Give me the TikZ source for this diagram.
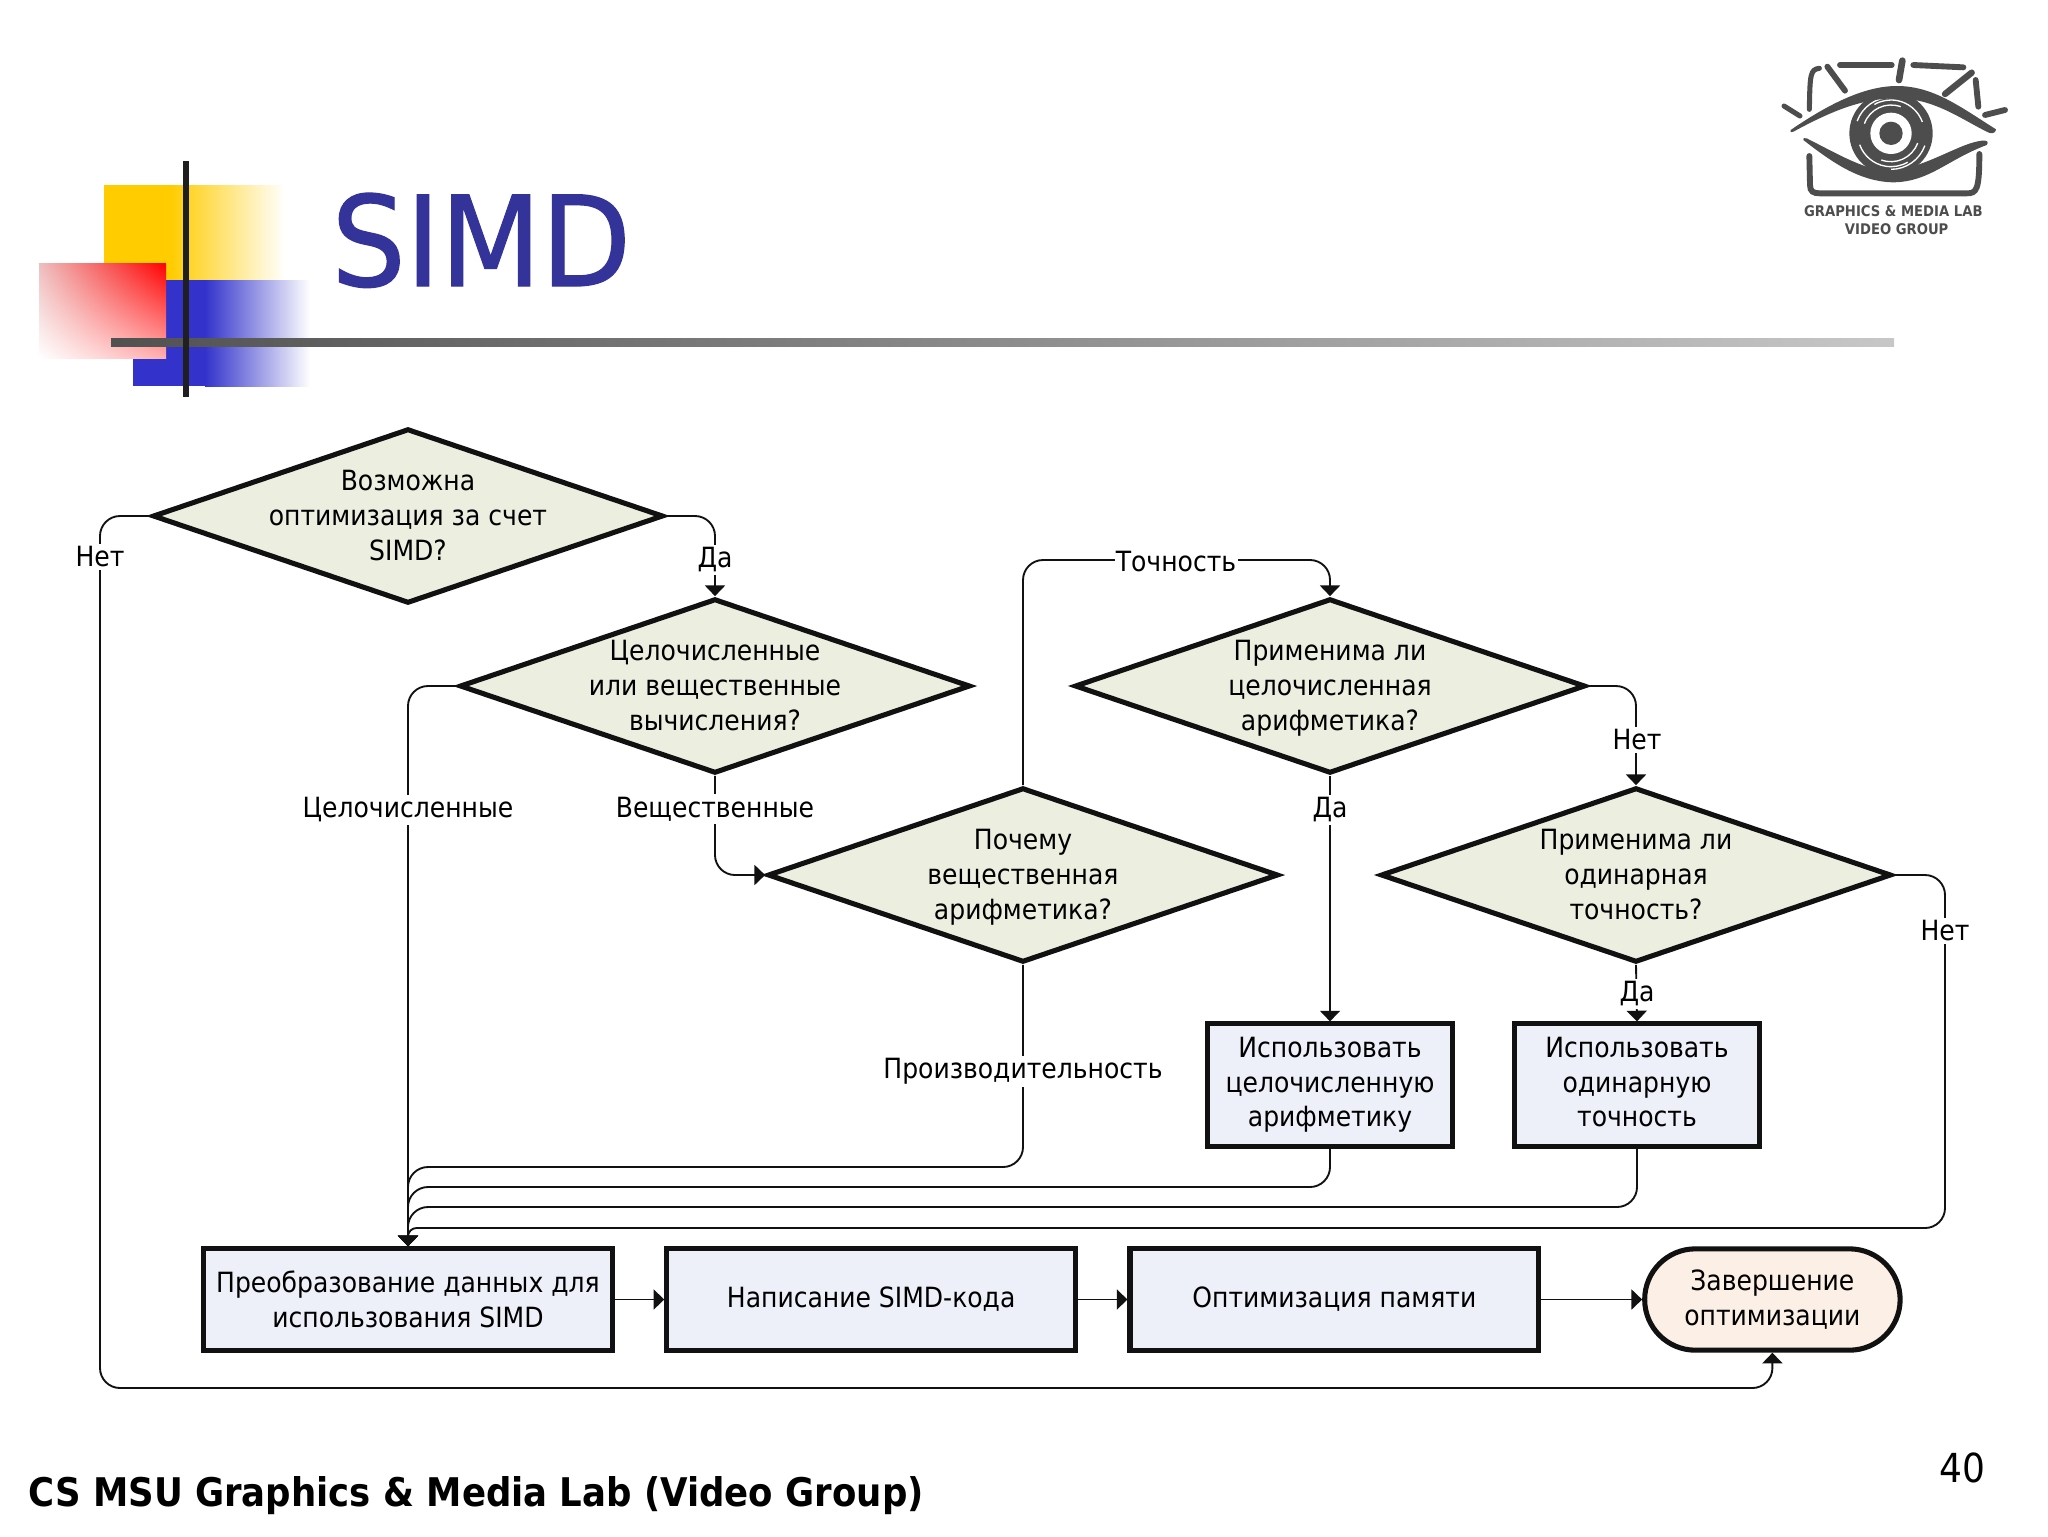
\documentclass[tikz,border=0pt]{standalone}
\usepackage{fontspec}
\setmainfont{DejaVu Sans Condensed}
\newfontfamily\titlefont{DejaVu Sans Condensed}[FakeBold=1, FakeStretch=1.037]
\usepackage{xcolor}
\usepackage{tikz}
\usetikzlibrary{positioning,shapes.geometric,arrows.meta,shadings}
\definecolor{decisionfill}{HTML}{ECEFE0}
\definecolor{actionfill}{HTML}{EDF0F8}
\definecolor{finishfill}{HTML}{FCEFE5}
\definecolor{linedark}{HTML}{111111}
\definecolor{titleblue}{HTML}{333399}
\definecolor{logogray}{HTML}{4D4D4D}
\definecolor{decoyellow}{HTML}{FFCC00}
\definecolor{decoblue}{HTML}{3333CC}
\definecolor{decopinka}{HTML}{EEBEBE}
\definecolor{decopinkb}{HTML}{FFAFAF}
\newcommand{\dtext}[1]{\makebox[0pt]{\smash{\raisebox{-3.5pt}{\begin{tabular}[c]{@{}c@{}}#1\end{tabular}}}}}
\newcommand{\nodefont}{\fontsize{10.45}{13}\selectfont}
\tikzset{
  decision/.style={diamond, aspect=3, minimum width=191.5pt, minimum height=65.5pt, inner sep=0pt, draw=linedark, line width=1.9pt, fill=decisionfill, font=\nodefont},
  action/.style={rectangle, minimum width=153.3pt, minimum height=38pt, inner sep=0pt, align=center, draw=linedark, line width=1.9pt, fill=actionfill, font=\nodefont},
  usebox/.style={action, minimum width=91.8pt, minimum height=45.8pt},
  finish/.style={action, minimum width=95.8pt, rounded corners=19pt, fill=finishfill},
  arrow/.style={draw=linedark, line width=.7pt, rounded corners=7.5pt, -{Triangle[length=4pt,width=7.5pt]}},
  annotation/.style={fill=white, inner xsep=.5pt, inner ysep=1pt, font=\nodefont},
  logoline/.style={draw=logogray, line cap=round},
  logotext/.style={inner sep=0pt, text=logogray, font=\bfseries\fontsize{5.5}{7}\selectfont}
}
\begin{document}
\begin{tikzpicture}[x=.375pt, y=-.375pt]
  \useasboundingbox (0,0) rectangle (2048,1536);

  % Corner decoration
  \fill [decoyellow] (104,185) rectangle (183,280);
  \shade [left color=decoyellow, right color=white] (170,185) rectangle (285,280);
  \fill [white] (104,280) rectangle (133,386);
  \fill [decoblue] (133,280) rectangle (223,386);
  \shade [left color=decoblue, right color=white] (205,280) rectangle (310,386);
  \shade [upper right=red, lower left=white, upper left=decopinka, lower right=decopinkb] (39,263) rectangle (166,358);
  \begin{scope}
    \clip (111,338) rectangle (1894,346);
    \shade [left color=black!88, middle color=black!27, right color=white] (-647,338) rectangle (2741,346);
  \end{scope}
  \fill [black!88] (183,161) rectangle (189,397);

  % Title and footer
  \node (title) [anchor=base west, inner sep=0pt, text=titleblue, font=\titlefont\fontsize{47}{50}\selectfont] at (331,286) {SIMD};
  \node (footer) [anchor=base west, inner sep=0pt, font=\bfseries\fontsize{14.8}{16}\selectfont] at (28,1506) {CS MSU Graphics \& Media Lab (Video Group)};
  \node (pagenum) [anchor=base, inner sep=0pt, font=\fontsize{15}{18}\selectfont] at (1962,1482) {40};

  % Logo
  \begin{scope}[shift={(1760,30)}, x=.125pt, y=-.125pt]
    \draw [logoline, line width=1.9pt] (178,115) .. controls (150,118) and (150,135) .. (148,238);
    \draw [logoline, line width=2.2pt] (202,110) -- (255,182);
    \draw [logoline, line width=2.2pt] (240,105) -- (395,105);
    \draw [logoline, line width=2.5pt] (427,92) -- (417,150);
    \draw [logoline, line width=2.2pt] (460,105) -- (610,112);
    \draw [logoline, line width=2.4pt] (635,128) -- (555,192);
    \draw [logoline, line width=2.2pt] (647,150) -- (655,230);
    \draw [logoline, line width=2.2pt] (675,255) -- (735,240);
    \draw [logoline, line width=1.9pt] (72,228) -- (120,258);
    \fill [logogray] (393,310) circle (125);
    \draw [white, line width=.5pt] (393,310) ++(160:100) arc (160:60:100);
    \draw [white, line width=.5pt] (393,310) ++(340:100) arc (340:240:100);
    \draw [white, line width=.5pt] (393,310) ++(200:108) arc (200:270:108);
    \draw [white, line width=.5pt] (393,310) ++(20:108) arc (20:90:108);
    \draw [white, line width=.5pt] (393,310) ++(110:85) arc (110:20:85);
    \draw [white, line width=.5pt] (393,310) ++(290:85) arc (290:200:85);
    \fill [white] (393,310) circle (62);
    \fill [logogray] (393,310) circle (35);
    \fill [logogray] (92,300) .. controls (230,205) and (330,168) .. (410,168) .. controls (520,168) and (600,230) .. (708,298) .. controls (708,312) and (690,312) .. (680,305) .. controls (600,265) and (520,205) .. (410,205) .. controls (310,205) and (220,240) .. (100,305) .. controls (92,308) and (88,305) .. (92,300) -- cycle;
    \fill [logogray] (130,330) .. controls (220,400) and (300,455) .. (400,457) .. controls (510,455) and (560,390) .. (680,345) .. controls (688,335) and (680,330) .. (665,332) .. controls (600,340) and (520,400) .. (400,425) .. controls (320,425) and (230,370) .. (140,325) .. controls (132,322) and (128,325) .. (130,330) -- cycle;
    \draw [logoline, line width=2.2pt] (148,378) -- (150,465) .. controls (150,485) and (160,490) .. (180,490) -- (620,490) .. controls (650,490) and (658,480) .. (658,372);
    \node (logotop) [logotext] at (400,543) {GRAPHICS \& MEDIA LAB};
    \node (logobottom) [logotext] at (410,598) {VIDEO GROUP};
  \end{scope}

  % Nodes
  \node (canopt) [decision] at (408,516) {\dtext{Возможна\\оптимизация за счет\\SIMD?}};
  \node (numtype) [decision] at (715,686) {\dtext{Целочисленные\\или вещественные\\вычисления?}};
  \node (whyreal) [decision] at (1023,875) {\dtext{Почему\\вещественная\\арифметика?}};
  \node (intarith) [decision] at (1330,686) {\dtext{Применима ли\\целочисленная\\арифметика?}};
  \node (single) [decision] at (1636,875) {\dtext{Применима ли\\одинарная\\точность?}};
  \node (useint) [usebox] at (1330,1085) {Использовать\\целочисленную\\арифметику};
  \node (usesingle) [usebox] at (1637,1085) {Использовать\\одинарную\\точность\vphantom{р}};
  \node (convert) [action] at (408,1299.5) {Преобразование данных для\\использования SIMD};
  \node (writecode) [action, right=18.5pt of convert] {Написание SIMD-кода};
  \node (memory) [action, right=18.5pt of writecode] {Оптимизация памяти};
  \node (done) [finish, right=37.8pt of memory] {Завершение\\оптимизации};

  % Bends
  \coordinate (nobottom) at (100,1388);
  \coordinate (precise) at (1175,560);
  \coordinate (perf) at (408,1167);
  \coordinate (intback) at (408,1187);
  \coordinate (singleback) at (408,1207);
  \coordinate (doubleback) at (1945,1228);
  \coordinate (backmid) at (1000,1228);

  % Arrows
  \draw [arrow] (canopt.west) -| (nobottom) -| (done.south);
  \draw [arrow] (canopt.east) -| (numtype.north);
  \draw [arrow] (numtype.west) -| (convert.north);
  \draw [arrow] (numtype.south) |- (whyreal.west);
  \draw [arrow] (whyreal.north) |- (precise) -| (intarith.north);
  \draw [arrow] (whyreal.south) |- (perf) -- (convert.north);
  \draw [arrow] (intarith.east) -| (single.north);
  \draw [arrow] (intarith.south) -- (useint.north);
  \draw [arrow] (single.east) -| (doubleback) -- (backmid) [rounded corners=3.2pt] -| (convert.north);
  \draw [arrow] (single.south) -- (usesingle.north);
  \draw [arrow] (useint.south) |- (intback) -- (convert.north);
  \draw [arrow] (usesingle.south) |- (singleback) -- (convert.north);
  \draw [arrow] (convert) -- (writecode);
  \draw [arrow] (writecode) -- (memory);
  \draw [arrow] (memory) -- (done);

  % Annotations
  \node (nolabel) [annotation] at (100,557) {Нет};
  \node (yeslabel) [annotation] at (715,559.5) {Да};
  \node (intlabel) [annotation] at (408,809.5) {Целочисленные};
  \node (reallabel) [annotation] at (715,809) {Вещественные};
  \node (preclabel) [annotation] at (1176,562) {Точность};
  \node (perflabel) [annotation] at (1023,1071.5) {Производительность};
  \node (yesint) [annotation] at (1330,809.5) {Да};
  \node (noint) [annotation] at (1637,740) {Нет};
  \node (yessingle) [annotation] at (1637,993.5) {Да};
  \node (nosingle) [annotation] at (1945,931) {Нет};
\end{tikzpicture}
\end{document}
